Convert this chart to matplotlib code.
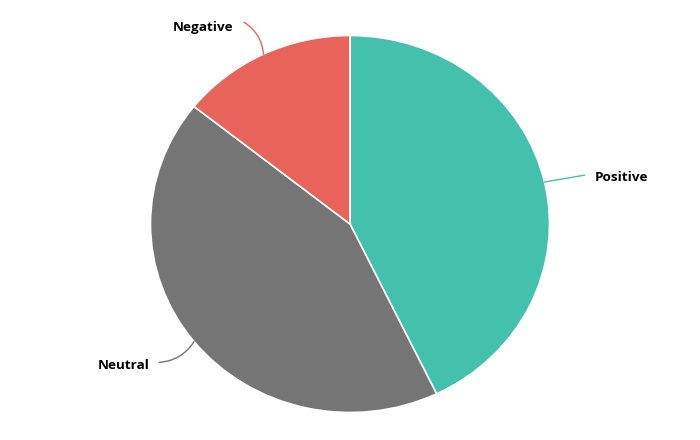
import matplotlib
matplotlib.use("Agg")
import matplotlib.pyplot as plt
import numpy as np

labels = ["Positive", "Neutral", "Negative"]
values = [3, 3, 1]
colors = ["#43C1AC", "#757575", "#E8645A"]

# connector end (points from slice edge), label nudge, connector bend
offsets = [(29, 5), (-25, -15), (-14, 23)]
nudges = [(7, -2), (-7, -2), (-8, -4)]
bends = [0.0, 0.25, -0.25]

fig = plt.figure(figsize=(7, 4.4), dpi=100)
ax = fig.add_axes([0, 0, 1, 1])

wedges, _ = ax.pie(values, colors=colors, startangle=90, counterclock=False,
                   wedgeprops=dict(edgecolor="white", linewidth=1.2))
ax.set_aspect("auto")
ax.set_xlim(-350 / 199.5, 350 / 199.5)
ax.set_ylim(-216 / 188.5, 224 / 188.5)
ax.axis("off")

for w, lab, col, off, nd, rad in zip(wedges, labels, colors, offsets, nudges, bends):
    mid = np.deg2rad((w.theta1 + w.theta2) / 2)
    xy = (np.cos(mid), np.sin(mid))
    ax.annotate("", xy=xy, xytext=off, textcoords="offset points",
                arrowprops=dict(arrowstyle="-", color=col, lw=1,
                                shrinkA=0, shrinkB=0,
                                connectionstyle=f"arc3,rad={rad}"))
    ha = "left" if off[0] > 0 else "right"
    ax.annotate(lab, xy=xy, xytext=(off[0] + nd[0], off[1] + nd[1]),
                textcoords="offset points",
                ha=ha, va="center", fontsize=9.7, fontweight="bold",
                family=["Open Sans", "DejaVu Sans"], color="black")

fig.savefig("out.png", dpi=100)
